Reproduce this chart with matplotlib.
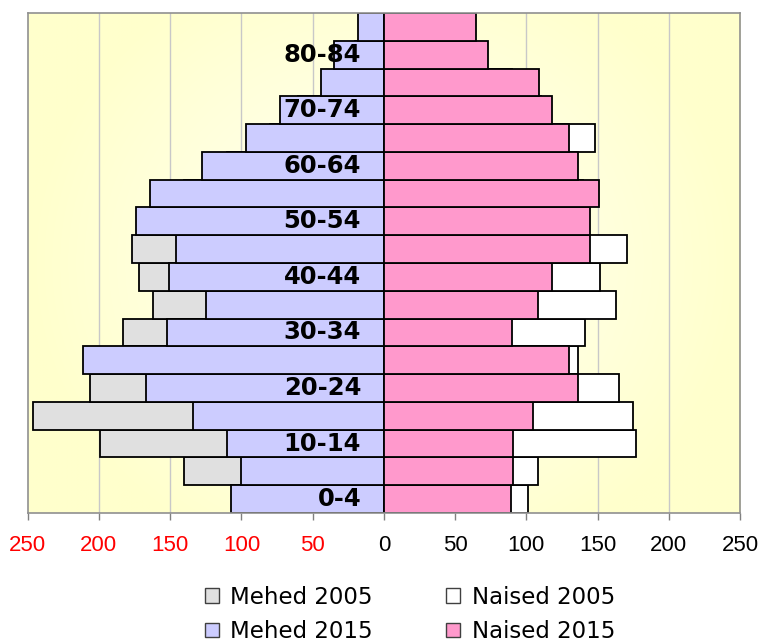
import numpy as np
import matplotlib
matplotlib.use("Agg")
import matplotlib.pyplot as plt
from matplotlib.patches import Patch

ages = ['0-4', '5-9', '10-14', '15-19', '20-24', '25-29', '30-34', '35-39',
        '40-44', '45-49', '50-54', '55-59', '60-64', '65-69', '70-74',
        '75-79', '80-84', '85+']
men_2005 = [100, 140, 199, 246, 206, 180, 183, 162, 172, 177, 160, 140,
            110, 80, 60, 30, 20, 10]
men_2015 = [107, 100, 110, 134, 167, 211, 152, 125, 151, 146, 174, 164,
            128, 97, 73, 44, 35, 18]
women_2005 = [101, 108, 177, 175, 165, 136, 141, 163, 152, 171, 140, 140,
              120, 148, 110, 90, 60, 40]
women_2015 = [89, 91, 91, 105, 136, 130, 90, 108, 118, 145, 145, 151,
              136, 130, 118, 109, 73, 65]
x_ticks = [-250, -200, -150, -100, -50, 0, 50, 100, 150, 200, 250]
series_names = ['Mehed 2005', 'Mehed 2015', 'Naised 2005', 'Naised 2015']

W, H = 762, 643
fig = plt.figure(figsize=(W / 100, H / 100), dpi=100)
ax = fig.add_axes([27.7 / W, 1 - 513 / H, (740 - 27.7) / W, 500 / H])

n = len(ages)
y = np.arange(n)

# background gradient (light yellow, lighter toward middle)
gx = np.linspace(-1, 1, 400)
gy = np.linspace(-1, 1, 300)
GX, GY = np.meshgrid(gx, gy)
r = np.clip(np.sqrt(GX ** 2 * 1.0 + GY ** 2 * 0.6), 0, 1)
edge = np.array([255, 255, 204]) / 255
center = np.array([255, 255, 242]) / 255
img = center[None, None, :] * (1 - r[..., None] ** 1.2) + edge[None, None, :] * (r[..., None] ** 1.2)
ax.imshow(img, extent=(-250, 250, -0.5, n - 0.5), aspect='auto', zorder=0,
          interpolation='bilinear')

for xv in x_ticks[1:-1]:
    ax.axvline(xv, color='#c8c8c8', lw=1.0, zorder=0.5)

c_m05, c_m15, c_w05, c_w15 = '#e0e0e0', '#ccccff', '#ffffff', '#ff99cc'
lw = 1.3
ax.barh(y, -np.array(men_2005), height=1.0, color=c_m05, edgecolor='black', lw=lw, zorder=2)
ax.barh(y, -np.array(men_2015), height=1.0, color=c_m15, edgecolor='black', lw=lw, zorder=3)
ax.barh(y, women_2005, height=1.0, color=c_w05, edgecolor='black', lw=lw, zorder=2)
ax.barh(y, women_2015, height=1.0, color=c_w15, edgecolor='black', lw=lw, zorder=3)

ax.set_xlim(-250, 250)
ax.set_ylim(-0.5, n - 0.5)
ax.set_yticks([])
ax.set_xticks(x_ticks)
ax.set_xticklabels([str(abs(v)) for v in x_ticks], fontfamily='Liberation Sans', fontsize=16)
for lab, v in zip(ax.get_xticklabels(), x_ticks):
    lab.set_color('red' if v < 0 else 'black')
ax.tick_params(axis='x', direction='out', length=5, width=1, color='#808080', pad=11)
for s in ax.spines.values():
    s.set_color('#909090')
    s.set_linewidth(1.2)
    s.set_zorder(5)

for i, a in enumerate(ages):
    if i % 2 == 0:
        ax.text(-16, i, a, ha='right', va='center', fontsize=17.5,
                fontweight='bold', fontfamily='DejaVu Sans', zorder=6)

handles = [Patch(facecolor=c_m05, edgecolor='#404040', lw=1),
           Patch(facecolor=c_m15, edgecolor='#404040', lw=1),
           Patch(facecolor=c_w05, edgecolor='#404040', lw=1),
           Patch(facecolor=c_w15, edgecolor='#404040', lw=1)]
fig.legend(handles, series_names, ncol=2, loc='center',
           bbox_to_anchor=(410 / W, 1 - 614.5 / H), frameon=False,
           prop={'family': 'DejaVu Sans', 'size': 16.5},
           handlelength=0.6, handleheight=0.6, handletextpad=0.5,
           columnspacing=3.2, labelspacing=0.5, borderpad=0)

fig.savefig('out.png', dpi=100)
